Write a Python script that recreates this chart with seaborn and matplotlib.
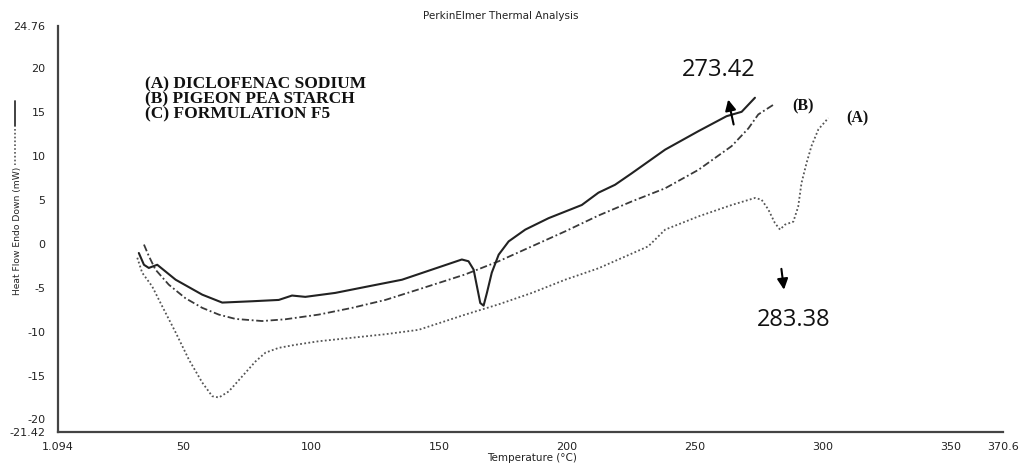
import matplotlib
matplotlib.use("Agg")
import matplotlib.pyplot as plt
from matplotlib.lines import Line2D
import seaborn as sns
import pandas as pd

# ---- data ----
a_temp = [32.1, 34.0, 37.9, 41.8, 47.1, 52.3, 57.5, 61.4, 64.0, 67.9, 73.1, 78.3, 82.2,
          87.4, 94.0, 103.0, 116.1, 129.1, 142.1, 160.3, 173.4, 186.4, 199.4, 212.4,
          231.9, 238.5, 251.5, 264.5, 273.6, 276.2, 278.8, 281.4, 283.4, 285.3, 288.6,
          290.5, 291.8, 293.8, 295.7, 298.4, 302.3]
a_flow = [-1.6, -3.3, -4.85, -7.1, -10.1, -13.2, -15.8, -17.35, -17.5, -16.8, -15.1, -13.4,
          -12.4, -11.85, -11.5, -11.1, -10.7, -10.3, -9.8, -8.07, -6.9, -5.6, -4.1, -2.8,
          -0.3, 1.6, 3.1, 4.4, 5.2, 5.0, 3.9, 2.35, 1.6, 2.16, 2.5, 4.2, 6.9, 9.2, 11.1,
          13.0, 14.3]

b_temp = [34.7, 36.6, 39.2, 44.4, 50.9, 57.5, 64.0, 70.5, 80.9, 90.0, 103.0, 116.1, 129.1,
          142.1, 160.3, 173.4, 186.4, 199.4, 212.4, 225.4, 238.5, 251.5, 264.5, 271.0,
          274.9, 280.8]
b_flow = [-0.1, -1.4, -2.95, -4.66, -6.2, -7.3, -8.07, -8.56, -8.8, -8.6, -8.07, -7.3, -6.4,
          -5.2, -3.5, -2.0, -0.3, 1.4, 3.2, 4.8, 6.3, 8.4, 11.1, 13.1, 14.7, 15.8]

c_temp = [32.7, 34.7, 36.6, 39.9, 47.1, 57.5, 65.3, 77.0, 87.4, 92.6, 97.8, 109.5, 122.5,
          135.6, 147.3, 159.0, 161.6, 163.6, 164.9, 166.2, 167.5, 168.8, 170.7, 173.4,
          177.3, 183.8, 192.9, 205.9, 212.4, 218.9, 225.4, 238.5, 251.5, 262.5, 268.4, 273.6]
c_flow = [-1.06, -2.4, -2.76, -2.4, -4.1, -5.8, -6.7, -6.55, -6.4, -5.9, -6.05, -5.6, -4.85,
          -4.1, -2.95, -1.8, -2.0, -2.95, -4.85, -6.75, -7.05, -5.6, -3.3, -1.25, 0.26, 1.6,
          2.9, 4.4, 5.8, 6.7, 8.0, 10.7, 12.8, 14.5, 15.0, 16.6]

x_ticks = [1.094, 50, 100, 150, 200, 250, 300, 350, 370.6]
x_tick_labels = ["1.094", "50", "100", "150", "200", "250", "300", "350", "370.6"]
y_ticks = [-21.42, -20, -15, -10, -5, 0, 5, 10, 15, 20, 24.76]
y_tick_labels = ["-21.42", "-20", "-15", "-10", "-5", "0", "5", "10", "15", "20", "24.76"]

legend_lines = ["(A) DICLOFENAC SODIUM", "(B) PIGEON PEA STARCH", "(C) FORMULATION F5"]

sns.set_theme(style="white")
plt.rcParams["font.family"] = ["DejaVu Sans"]

fig = plt.figure(figsize=(10.21, 4.66), dpi=100)
ax = fig.add_axes([0.0568, 0.073, 0.9256, 0.8712])

dfa = pd.DataFrame({"t": a_temp, "f": a_flow})
dfb = pd.DataFrame({"t": b_temp, "f": b_flow})
dfc = pd.DataFrame({"t": c_temp, "f": c_flow})

sns.lineplot(data=dfa, x="t", y="f", ax=ax, sort=False, estimator=None,
             color="#555555", lw=1.3, linestyle=(0, (1.0, 1.3)))
sns.lineplot(data=dfb, x="t", y="f", ax=ax, sort=False, estimator=None,
             color="#3a3a3a", lw=1.3, linestyle=(0, (4.0, 1.5, 1.0, 1.5)))
sns.lineplot(data=dfc, x="t", y="f", ax=ax, sort=False, estimator=None,
             color="#222222", lw=1.5, linestyle="-")

ax.set_xlim(1.094, 370.6)
ax.set_ylim(-21.42, 24.76)
ax.set_xticks(x_ticks)
ax.set_xticklabels(x_tick_labels)
ax.set_yticks(y_ticks)
ax.set_yticklabels(y_tick_labels)
ax.set_xlabel("")
ax.set_ylabel("")
for s in ["top", "right"]:
    ax.spines[s].set_visible(False)
for s in ["left", "bottom"]:
    ax.spines[s].set_color("#444444")
    ax.spines[s].set_linewidth(1.6)
ax.tick_params(axis="x", direction="inout", length=4, width=1.2, colors="#444444",
               labelcolor="#222222", labelsize=8, pad=5)
ax.tick_params(axis="y", direction="out", length=3, width=1.2, colors="#444444",
               labelcolor="#222222", labelsize=8, pad=6)
ax.grid(False)

# title and axis labels
fig.text(501 / 1021, 1 - 16 / 466, "PerkinElmer Thermal Analysis", ha="center",
         va="center", fontsize=7.5, color="#222222")
fig.text(532 / 1021, 1 - 458 / 466, "Temperature (°C)", ha="center", va="center",
         fontsize=7.5, color="#222222")
fig.text(17.5 / 1021, 1 - 231 / 466, "Heat Flow Endo Down (mW)", ha="center",
         va="center", rotation=90, fontsize=6.6, color="#222222")
fig.add_artist(Line2D([15 / 1021, 15 / 1021], [1 - 101 / 466, 1 - 126 / 466],
                      transform=fig.transFigure, color="#333333", lw=1.3))
fig.add_artist(Line2D([15 / 1021, 15 / 1021], [1 - 129 / 466, 1 - 165 / 466],
                      transform=fig.transFigure, color="#555555", lw=1.2,
                      linestyle=(0, (1.0, 1.3))))

# in-plot legend text (one multi-line block)
fig.text(145 / 1021, 1 - 99.5 / 466, "\n".join(legend_lines), ha="left", va="center",
         fontsize=12.5, fontweight="bold", family=["Liberation Serif"],
         color="#111111", linespacing=0.92)

# curve labels
ax.text(292.2, 15.6, "(B)", ha="center", va="center", fontsize=11.5, fontweight="bold",
        family=["Liberation Serif"], color="#111111")
ax.text(313.7, 14.28, "(A)", ha="center", va="center", fontsize=11.5, fontweight="bold",
        family=["Liberation Serif"], color="#111111")

# peak annotations
ax.annotate("", xy=(262.9, 16.7), xytext=(265.5, 13.25),
            arrowprops=dict(arrowstyle="-|>", color="black", lw=1.5, mutation_scale=16))
ax.text(259.3, 19.8, "273.42", ha="center", va="center", fontsize=17,
        family=["Open Sans"], color="#111111")
ax.annotate("", xy=(285.1, -5.55), xytext=(283.8, -2.55),
            arrowprops=dict(arrowstyle="-|>", color="black", lw=1.5, mutation_scale=16))
ax.text(288.6, -8.64, "283.38", ha="center", va="center", fontsize=17,
        family=["Open Sans"], color="#111111")

fig.savefig("out.png", dpi=100)
